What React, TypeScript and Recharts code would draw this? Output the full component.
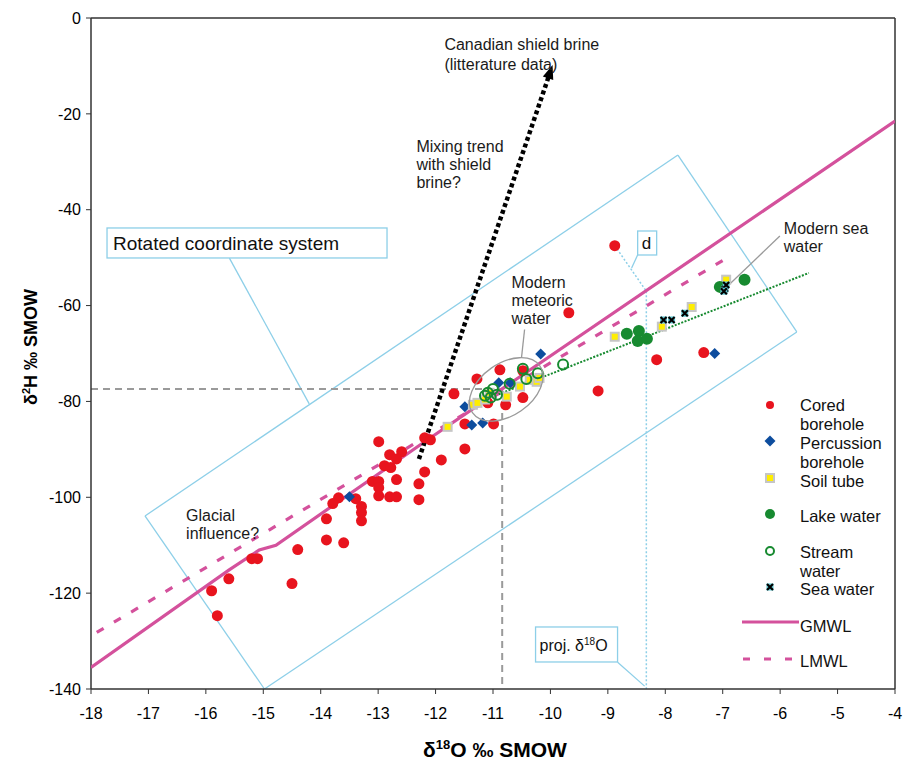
import React from 'react';
import {
  ScatterChart,
  Scatter,
  XAxis,
  YAxis,
  ReferenceLine,
  ReferenceDot,
  Legend,
  Label,
} from 'recharts';

type Pt = { x: number; y: number };

const xTicks = [-18, -17, -16, -15, -14, -13, -12, -11, -10, -9, -8, -7, -6, -5, -4];
const yTicks = [0, -20, -40, -60, -80, -100, -120, -140];

const cored: Pt[] = [
  { x: -12.99, y: -88.4 }, { x: -12.8, y: -91.1 }, { x: -12.59, y: -90.5 },
  { x: -12.89, y: -93.4 }, { x: -12.78, y: -93.8 }, { x: -12.68, y: -92.0 },
  { x: -13.1, y: -96.7 }, { x: -12.99, y: -96.7 }, { x: -12.99, y: -98.0 },
  { x: -12.99, y: -99.7 }, { x: -12.8, y: -99.9 }, { x: -12.68, y: -99.9 },
  { x: -12.68, y: -96.3 }, { x: -12.29, y: -97.2 }, { x: -12.29, y: -100.5 },
  { x: -12.19, y: -94.7 }, { x: -12.19, y: -87.6 }, { x: -12.09, y: -88.0 },
  { x: -13.69, y: -100.1 }, { x: -13.79, y: -101.3 }, { x: -13.39, y: -100.3 },
  { x: -13.29, y: -101.9 }, { x: -13.29, y: -103.2 }, { x: -13.29, y: -104.9 },
  { x: -13.9, y: -104.5 }, { x: -13.9, y: -108.9 }, { x: -13.6, y: -109.5 },
  { x: -14.4, y: -110.9 }, { x: -14.5, y: -118.0 }, { x: -15.2, y: -112.8 },
  { x: -15.1, y: -112.8 }, { x: -15.6, y: -117.0 }, { x: -15.9, y: -119.5 },
  { x: -15.8, y: -124.7 }, { x: -11.68, y: -78.4 }, { x: -11.9, y: -92.2 },
  { x: -11.49, y: -89.9 }, { x: -11.49, y: -84.7 }, { x: -10.99, y: -84.7 },
  { x: -10.88, y: -73.4 }, { x: -11.28, y: -75.3 }, { x: -10.48, y: -73.6 },
  { x: -10.48, y: -79.2 }, { x: -10.78, y: -80.7 }, { x: -11.09, y: -80.3 },
  { x: -9.17, y: -77.8 }, { x: -8.88, y: -47.5 }, { x: -8.15, y: -71.3 },
  { x: -7.33, y: -69.8 }, { x: -9.68, y: -61.5 },
];

const percussion: Pt[] = [
  { x: -10.17, y: -70.1 }, { x: -11.49, y: -81.1 }, { x: -11.37, y: -84.9 },
  { x: -11.18, y: -84.5 }, { x: -10.9, y: -76.1 }, { x: -10.7, y: -76.1 },
  { x: -13.5, y: -99.9 }, { x: -7.14, y: -70.0 },
];

const soilTube: Pt[] = [
  { x: -6.94, y: -54.6 }, { x: -7.54, y: -60.3 }, { x: -8.06, y: -64.4 },
  { x: -8.88, y: -66.5 }, { x: -11.79, y: -85.3 }, { x: -11.35, y: -80.7 },
  { x: -11.27, y: -80.3 }, { x: -11.14, y: -79.6 }, { x: -11.06, y: -78.2 },
  { x: -10.76, y: -79.0 }, { x: -10.53, y: -76.9 }, { x: -10.36, y: -75.5 },
  { x: -10.24, y: -75.9 }, { x: -10.19, y: -75.1 },
];

const lake: Pt[] = [
  { x: -7.05, y: -56.1 }, { x: -6.62, y: -54.6 }, { x: -8.67, y: -65.9 },
  { x: -8.46, y: -65.3 }, { x: -8.48, y: -67.4 }, { x: -8.32, y: -66.9 },
];

const stream: Pt[] = [
  { x: -10.48, y: -73.2 }, { x: -10.22, y: -74.1 }, { x: -10.42, y: -75.3 },
  { x: -10.71, y: -76.3 }, { x: -11.0, y: -77.4 }, { x: -11.09, y: -78.2 },
  { x: -11.04, y: -79.2 }, { x: -11.14, y: -78.8 }, { x: -10.93, y: -78.6 },
  { x: -9.78, y: -72.3 },
];

const sea: Pt[] = [
  { x: -8.03, y: -63.0 }, { x: -7.89, y: -63.0 }, { x: -7.66, y: -61.6 },
  { x: -6.96, y: -56.5 }, { x: -6.94, y: -55.7 }, { x: -6.98, y: -57.0 },
];

const gmwl: Pt[] = [
  { x: -18, y: -135.5 }, { x: -15.6, y: -115.2 }, { x: -15.07, y: -111.0 },
  { x: -14.78, y: -110.0 }, { x: -12.19, y: -88.4 }, { x: -4, y: -21.5 },
];
const lmwl: Pt[] = [{ x: -17.9, y: -128.2 }, { x: -6.93, y: -50.1 }];
const streamTrend: Pt[] = [{ x: -10.9, y: -78.5 }, { x: -5.5, y: -53.2 }];
const brineTrend: Pt[] = [{ x: -12.29, y: -92.0 }, { x: -10.03, y: -12.2 }];

const FONT = 'Arial, "Liberation Sans", Helvetica, sans-serif';
const NARROW = '"Liberation Sans Narrow", "Arial Narrow", Arial, sans-serif';
const RED = '#e8141e';
const BLUE = '#0d4d9e';
const YELLOW = '#ffee00';
const GREEN = '#178a30';
const MAG = '#d4519c';
const LB = '#8dcfe8';
const GREY = '#9a9a9a';

const redDot = (p: any) => <circle cx={p.cx} cy={p.cy} r={5.5} fill={RED} />;
const blueDiamond = (p: any) => (
  <polygon
    points={`${p.cx},${p.cy - 5.5} ${p.cx + 5.5},${p.cy} ${p.cx},${p.cy + 5.5} ${p.cx - 5.5},${p.cy}`}
    fill={BLUE}
  />
);
const soilSquare = (p: any) => (
  <rect x={p.cx - 4} y={p.cy - 4} width={8} height={8} fill={YELLOW} stroke="#c6c6c6" strokeWidth={2} />
);
const lakeDot = (p: any) => <circle cx={p.cx} cy={p.cy} r={6} fill={GREEN} />;
const streamRing = (p: any) => (
  <circle cx={p.cx} cy={p.cy} r={5} fill="none" stroke={GREEN} strokeWidth={2} />
);
const seaCross = (p: any) => (
  <g>
    <rect x={p.cx - 3.5} y={p.cy - 3.5} width={7} height={7} fill="#5fc6cf" />
    <path
      d={`M${p.cx - 3},${p.cy - 3}L${p.cx + 3},${p.cy + 3}M${p.cx + 3},${p.cy - 3}L${p.cx - 3},${p.cy + 3}`}
      stroke="#000"
      strokeWidth={2.2}
    />
  </g>
);
const noDot = () => <g />;

function note(key: string, x: number, y: number, draw: (cx: number, cy: number) => React.ReactNode) {
  return (
    <ReferenceDot
      key={key}
      x={x}
      y={y}
      r={0}
      ifOverflow="visible"
      shape={(p: any) => <g>{draw(p.cx, p.cy)}</g>}
    />
  );
}

const textLines = (cx: number, cy: number, rows: string[], step: number) => (
  <text x={cx} y={cy} fontSize={16} fontFamily={FONT} fill="#1a1a1a">
    {rows.map((s, i) => (
      <tspan key={i} x={cx} dy={i === 0 ? 0 : step}>
        {s}
      </tspan>
    ))}
  </text>
);

function seg(key: string, a: Pt, b: Pt, stroke: string, width: number, dash?: string) {
  return (
    <ReferenceLine
      key={key}
      segment={[a, b]}
      stroke={stroke}
      strokeWidth={width}
      strokeDasharray={dash}
      ifOverflow="visible"
    />
  );
}

// legend rows: marker centre (my) and first text line centre (ty), px from legend top
const legendRows = [
  { rows: ['Cored', 'borehole'], mark: 'cored', my: 13, ty: 13 },
  { rows: ['Percussion', 'borehole'], mark: 'perc', my: 49, ty: 51 },
  { rows: ['Soil tube'], mark: 'soil', my: 86, ty: 89 },
  { rows: ['Lake water'], mark: 'lake', my: 122, ty: 124 },
  { rows: ['Stream', 'water'], mark: 'stream', my: 159, ty: 160 },
  { rows: ['Sea water'], mark: 'sea', my: 195, ty: 197 },
  { rows: ['GMWL'], mark: 'gmwl', my: 230, ty: 234 },
  { rows: ['LMWL'], mark: 'lmwl', my: 267, ty: 269 },
];

function LegendBox() {
  const mx = 35;
  return (
    <svg width={169} height={290} style={{ display: 'block' }}>
      {legendRows.map((r) => {
        const p = { cx: mx, cy: r.my };
        let m: React.ReactNode = null;
        if (r.mark === 'cored') m = <circle cx={mx} cy={r.my} r={4} fill={RED} />;
        if (r.mark === 'perc') m = blueDiamond({ cx: mx, cy: r.my });
        if (r.mark === 'soil') m = soilSquare(p);
        if (r.mark === 'lake') m = <circle cx={mx} cy={r.my} r={5} fill={GREEN} />;
        if (r.mark === 'stream') m = <circle cx={mx} cy={r.my} r={4} fill="none" stroke={GREEN} strokeWidth={2} />;
        if (r.mark === 'sea') m = seaCross(p);
        if (r.mark === 'gmwl') m = <line x1={7} x2={64} y1={r.my} y2={r.my} stroke={MAG} strokeWidth={3} />;
        if (r.mark === 'lmwl')
          m = <line x1={8} x2={57} y1={r.my} y2={r.my} stroke={MAG} strokeWidth={3} strokeDasharray="7 14" />;
        return (
          <g key={r.mark}>
            {m}
            <text x={65} y={r.ty + 6} fontSize={16.5} fontFamily={FONT} fill="#111">
              {r.rows.map((s, i) => (
                <tspan key={i} x={65} dy={i === 0 ? 0 : 19}>
                  {s}
                </tspan>
              ))}
            </text>
          </g>
        );
      })}
    </svg>
  );
}

const XTitle = () => (
  <text x={495} y={757} textAnchor="middle" fontSize={21} fontWeight="bold" fontFamily={FONT} fill="#000">
    δ<tspan fontSize={13} dy={-8}>18</tspan>
    <tspan dy={8}>O ‰ SMOW</tspan>
  </text>
);

const YTitle = () => (
  <text
    x={37}
    y={347}
    transform="rotate(-90, 37, 347)"
    textAnchor="middle"
    fontSize={18}
    fontWeight="bold"
    fontFamily={FONT}
    fill="#000"
  >
    δ<tspan fontSize={11} dy={-7}>2</tspan>
    <tspan dy={7}>H ‰ SMOW</tspan>
  </text>
);

export default function App() {
  const rect = {
    L: { x: -17.06, y: -103.9 },
    T: { x: -7.78, y: -28.6 },
    R: { x: -5.71, y: -65.5 },
    B: { x: -14.98, y: -140 },
  };
  return (
    <div style={{ position: 'absolute', left: 0, top: 0, width: 904, height: 760, background: '#fff' }}>
      <ScatterChart width={904} height={760} margin={{ top: 18, right: 9, bottom: 31, left: 31 }}>
        <XAxis
          type="number"
          dataKey="x"
          domain={[-18, -4]}
          ticks={xTicks}
          interval={0}
          allowDataOverflow
          height={40}
          tickSize={5}
          tickMargin={14}
          tick={{ fontSize: 16, fill: '#000', fontFamily: FONT }}
          axisLine={{ stroke: '#333', strokeWidth: 1.5 }}
          tickLine={{ stroke: '#333' }}
        >
          <Label content={() => <XTitle />} />
        </XAxis>
        <YAxis
          type="number"
          dataKey="y"
          domain={[-140, 0]}
          ticks={yTicks}
          interval={0}
          allowDataOverflow
          width={60}
          tickSize={5}
          tickMargin={5}
          tick={{ fontSize: 16, fill: '#000', fontFamily: FONT }}
          axisLine={{ stroke: '#333', strokeWidth: 1.5 }}
          tickLine={{ stroke: '#333' }}
        >
          <Label content={() => <YTitle />} />
        </YAxis>

        <ReferenceLine y={0} stroke="#333" strokeWidth={1.5} />
        <ReferenceLine x={-4} stroke="#333" strokeWidth={1.5} />

        {/* rotated coordinate system */}
        {seg('rL', rect.L, rect.T, LB, 1.3)}
        {seg('rT', rect.T, rect.R, LB, 1.3)}
        {seg('rR', rect.R, rect.B, LB, 1.3)}
        {seg('rB', rect.B, rect.L, LB, 1.3)}
        {seg('rc', { x: -15.59, y: -50.1 }, { x: -14.2, y: -80.5 }, LB, 1.3)}

        {/* projection of the mean value */}
        {seg('gh', { x: -18, y: -77.4 }, { x: -10.84, y: -77.4 }, GREY, 2, '7 5')}
        {seg('gv', { x: -10.84, y: -77.4 }, { x: -10.84, y: -140 }, GREY, 2, '7 5')}

        {/* deuterium excess d */}
        {seg('d1', { x: -8.88, y: -47.5 }, { x: -8.33, y: -57.0 }, LB, 1.5, '2 2')}
        {seg('d2', { x: -8.33, y: -57.0 }, { x: -8.33, y: -140 }, LB, 1.5, '2 2')}
        {seg('dc', { x: -8.586, y: -52.16 }, { x: -8.48, y: -49.4 }, LB, 1.3)}
        {seg('pc', { x: -8.83, y: -134.4 }, { x: -8.36, y: -139.4 }, LB, 1.3)}

        <Scatter data={gmwl} line={{ stroke: MAG, strokeWidth: 3.2 }} shape={noDot} isAnimationActive={false} />
        <Scatter
          data={lmwl}
          line={{ stroke: MAG, strokeWidth: 3.2, strokeDasharray: '8 12' }}
          shape={noDot}
          isAnimationActive={false}
        />
        <Scatter
          data={streamTrend}
          line={{ stroke: GREEN, strokeWidth: 2, strokeDasharray: '2 1.5' }}
          shape={noDot}
          isAnimationActive={false}
        />
        <Scatter
          data={brineTrend}
          line={{ stroke: '#000', strokeWidth: 4.5, strokeDasharray: '4 3' }}
          shape={noDot}
          isAnimationActive={false}
        />

        <Scatter name="Cored borehole" data={cored} shape={redDot} isAnimationActive={false} />
        <Scatter name="Percussion borehole" data={percussion} shape={blueDiamond} isAnimationActive={false} />
        <Scatter name="Soil tube" data={soilTube} shape={soilSquare} isAnimationActive={false} />
        <Scatter name="Lake water" data={lake} shape={lakeDot} isAnimationActive={false} />
        <Scatter name="Stream water" data={stream} shape={streamRing} isAnimationActive={false} />
        <Scatter name="Sea water" data={sea} shape={seaCross} isAnimationActive={false} />

        {/* callouts */}
        {seg('ec', { x: -10.504, y: -70.9 }, { x: -10.45, y: -65.0 }, GREY, 1.3)}
        {seg('sc', { x: -6.005, y: -45.5 }, { x: -6.877, y: -55.5 }, GREY, 1.3)}
        {note('ell', -10.77, -77.5, (cx, cy) => (
          <ellipse
            cx={cx}
            cy={cy}
            rx={41}
            ry={26}
            transform={`rotate(-35 ${cx} ${cy})`}
            fill="none"
            stroke={GREY}
            strokeWidth={1.3}
          />
        ))}
        {note('arrow', -9.963, -9.8, (cx, cy) => (
          <polygon
            points={`${cx},${cy} ${cx - 14},${cy - 5.5} ${cx - 14},${cy + 5.5}`}
            transform={`rotate(-71.2 ${cx} ${cy})`}
            fill="#000"
          />
        ))}
        {note('rbox', -17.721, -43.81, (cx, cy) => (
          <g>
            <rect x={cx} y={cy} width={280} height={30} fill="#fff" stroke={LB} strokeWidth={1.3} />
            <text x={cx + 6} y={cy + 22} fontSize={19} fontFamily={FONT} fill="#111">
              Rotated coordinate system
            </text>
          </g>
        ))}
        {note('dbox', -8.481, -44.44, (cx, cy) => (
          <g>
            <rect x={cx} y={cy} width={19} height={24} fill="#fff" stroke={LB} strokeWidth={1.3} />
            <text x={cx + 4} y={cy + 18} fontSize={17} fontFamily={FONT} fill="#111">
              d
            </text>
          </g>
        ))}
        {note('pbox', -10.259, -127.06, (cx, cy) => (
          <g>
            <rect x={cx} y={cy} width={82} height={35} fill="#fff" stroke={LB} strokeWidth={1.3} />
            <text x={cx + 4} y={cy + 24} fontSize={16} fontFamily={NARROW} fill="#111">
              proj. δ<tspan fontSize={10} dy={-6}>18</tspan>
              <tspan dy={6}>O</tspan>
            </text>
          </g>
        ))}
        {note('t1', -11.846, -6.68, (cx, cy) => textLines(cx, cy, ['Canadian shield brine', '(litterature data)'], 20))}
        {note('t2', -12.334, -27.96, (cx, cy) => textLines(cx, cy, ['Mixing trend', 'with shield', 'brine?'], 18))}
        {note('t3', -10.678, -56.33, (cx, cy) => textLines(cx, cy, ['Modern', 'meteoric', 'water'], 18))}
        {note('t4', -16.344, -104.94, (cx, cy) => textLines(cx, cy, ['Glacial', 'influence?'], 18))}
        {note('t5', -5.936, -45.07, (cx, cy) => textLines(cx, cy, ['Modern sea', 'water'], 18))}

        <Legend
          layout="vertical"
          align="center"
          verticalAlign="middle"
          wrapperStyle={{ left: 735, top: 392, width: 169 }}
          content={() => <LegendBox />}
        />
      </ScatterChart>
    </div>
  );
}
